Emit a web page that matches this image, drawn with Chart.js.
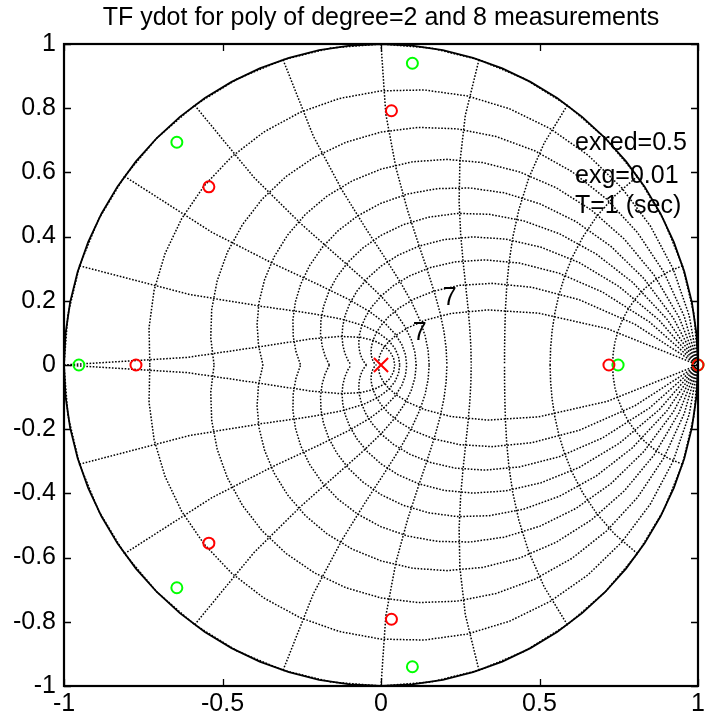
<!DOCTYPE html>
<html>
<head>
<meta charset="utf-8">
<script src="https://cdn.jsdelivr.net/npm/chart.js@4/dist/chart.umd.min.js"></script>
<style>
  html, body { margin: 0; padding: 0; background: #fff; }
  #wrap { width: 710px; height: 722px; }
</style>
</head>
<body>
<div id="wrap"><canvas id="zplane" width="710" height="722"></canvas></div>
<script>
// Values
const titleText = 'TF ydot for poly of degree=2 and 8 measurements';

// red circles
const redX = [0.033, 0.033, -0.543, -0.543, -0.773, 0.719, 1.0];
const redY = [0.792, -0.792, 0.555, -0.555, 0, 0, 0];
// green circles
const greenX = [0.099, 0.099, -0.644, -0.644, -0.953, 0.748, 1.0];
const greenY = [0.940, -0.940, 0.694, -0.694, 0, 0, 0];
// red cross
const crossX = [0];
const crossY = [0];

const xTicks = [-1, -0.5, 0, 0.5, 1];
const xTickLabels = ['-1', '-0.5', '0', '0.5', '1'];
const yTicks = [-1, -0.8, -0.6, -0.4, -0.2, 0, 0.2, 0.4, 0.6, 0.8, 1];
const yTickLabels = ['-1', '-0.8', '-0.6', '-0.4', '-0.2', '0', '0.2', '0.4', '0.6', '0.8', '1'];

// text in the plot
const noteLines = ['exred=0.5', 'exg=0.01', 'T=1 (sec)'];
const noteX = [0.612, 0.612, 0.612];
const noteY = [0.69, 0.59, 0.495];
const markLabels = ['7', '7'];
const markX = [0.195, 0.1];
const markY = [0.209, 0.1];

// z-plane grid (damping ratios and natural frequencies, wn in units of pi/T)
const zetaValues = [0, 0.1, 0.2, 0.3, 0.4, 0.5, 0.6, 0.7, 0.8, 0.9];
const wnValues = [0.1, 0.2, 0.3, 0.4, 0.5, 0.6, 0.7, 0.8, 0.9, 1];

const FONT = "'Liberation Sans', Arial, Helvetica, sans-serif";
const FS = 25;

function toPoints(xs, ys) {
    return xs.map((x, i) => ({ x: x, y: ys[i] }));
}

// draws the zgrid and the unit circle under the data
const zgridPlugin = {
    id: 'zgrid',
    beforeDatasetsDraw(chart) {
        const ctx = chart.ctx;
        const xs = chart.scales.x, ys = chart.scales.y;
        const a = chart.chartArea;
        const px = v => xs.getPixelForValue(v);
        const py = v => ys.getPixelForValue(v);

        ctx.save();
        ctx.beginPath();
        ctx.rect(a.left, a.top, a.right - a.left, a.bottom - a.top);
        ctx.clip();

        // solid unit circle
        ctx.strokeStyle = '#000';
        ctx.lineWidth = 1.8;
        ctx.beginPath();
        for (let k = 0; k <= 64; k++) {
            const t = k * 2 * Math.PI / 64;
            const X = px(Math.cos(t)), Y = py(Math.sin(t));
            if (k === 0) ctx.moveTo(X, Y); else ctx.lineTo(X, Y);
        }
        ctx.stroke();

        ctx.setLineDash([1.6, 1.6]);
        ctx.lineWidth = 1.5;
        ctx.strokeStyle = '#000';

        // constant damping lines
        zetaValues.forEach(z => {
            const m = Math.tan(Math.asin(z)) + 2.2e-16;
            [1, -1].forEach(sgn => {
                ctx.beginPath();
                for (let k = 0; k <= 20; k++) {
                    const t = k * Math.PI / 20;
                    const r = Math.exp(-m * t);
                    const X = px(r * Math.cos(t)), Y = py(sgn * r * Math.sin(t));
                    if (k === 0) ctx.moveTo(X, Y); else ctx.lineTo(X, Y);
                }
                ctx.stroke();
            });
        });

        // constant natural frequency lines
        wnValues.forEach(w => {
            [1, -1].forEach(sgn => {
                ctx.beginPath();
                for (let k = 0; k <= 10; k++) {
                    const th = Math.PI / 2 + k * Math.PI / 20;
                    const re = w * Math.PI * Math.cos(th);
                    const im = w * Math.PI * Math.sin(th);
                    const r = Math.exp(re);
                    const X = px(r * Math.cos(im)), Y = py(sgn * r * Math.sin(im));
                    if (k === 0) ctx.moveTo(X, Y); else ctx.lineTo(X, Y);
                }
                ctx.stroke();
            });
        });
        ctx.restore();
    }
};

// frame, inward ticks, title and text labels
const framePlugin = {
    id: 'frame',
    afterDraw(chart) {
        const ctx = chart.ctx;
        const xs = chart.scales.x, ys = chart.scales.y;
        const a = chart.chartArea;
        const tl = 7;

        ctx.save();
        ctx.strokeStyle = '#000';
        ctx.lineWidth = 1.3;
        ctx.beginPath();
        xTicks.forEach(v => {
            const X = Math.round(xs.getPixelForValue(v)) + 0.5;
            ctx.moveTo(X, a.bottom); ctx.lineTo(X, a.bottom - tl);
            ctx.moveTo(X, a.top); ctx.lineTo(X, a.top + tl);
        });
        yTicks.forEach(v => {
            const Y = Math.round(ys.getPixelForValue(v)) + 0.5;
            ctx.moveTo(a.left, Y); ctx.lineTo(a.left + tl, Y);
            ctx.moveTo(a.right, Y); ctx.lineTo(a.right - tl, Y);
        });
        ctx.stroke();

        ctx.lineWidth = 2.2;
        ctx.strokeRect(a.left, a.top, a.right - a.left, a.bottom - a.top);

        ctx.fillStyle = '#000';
        ctx.font = FS + 'px ' + FONT;
        ctx.textAlign = 'center';
        ctx.textBaseline = 'middle';
        ctx.fillText(titleText, (a.left + a.right) / 2, 18);

        ctx.textAlign = 'left';
        noteLines.forEach((s, i) => {
            ctx.fillText(s, xs.getPixelForValue(noteX[i]), ys.getPixelForValue(noteY[i]));
        });
        markLabels.forEach((s, i) => {
            ctx.fillText(s, xs.getPixelForValue(markX[i]), ys.getPixelForValue(markY[i]));
        });
        ctx.restore();
    }
};

new Chart(document.getElementById('zplane'), {
    type: 'scatter',
    data: {
        datasets: [
            {
                label: 'red',
                data: toPoints(redX, redY),
                pointStyle: 'circle',
                pointRadius: 5.5,
                borderWidth: 2,
                borderColor: '#ff0000',
                backgroundColor: 'rgba(0,0,0,0)',
                clip: false
            },
            {
                label: 'green',
                data: toPoints(greenX, greenY),
                pointStyle: 'circle',
                pointRadius: 5.5,
                borderWidth: 2,
                borderColor: '#00ff00',
                backgroundColor: 'rgba(0,0,0,0)',
                clip: false
            },
            {
                label: 'cross',
                data: toPoints(crossX, crossY),
                pointStyle: 'crossRot',
                pointRadius: 10,
                borderWidth: 2,
                borderColor: '#ff0000',
                backgroundColor: 'rgba(0,0,0,0)',
                clip: false
            }
        ]
    },
    options: {
        responsive: false,
        animation: false,
        events: [],
        layout: { padding: { top: 44, right: 4, left: 0, bottom: 0 } },
        plugins: {
            legend: { display: false },
            tooltip: { enabled: false },
            title: { display: false }
        },
        scales: {
            x: {
                type: 'linear',
                min: -1,
                max: 1,
                grid: { display: false, drawTicks: false },
                border: { display: false },
                afterBuildTicks: s => { s.ticks = xTicks.map(v => ({ value: v })); },
                afterFit: s => { s.height = 36; s.paddingLeft = 0; s.paddingRight = 0; },
                ticks: {
                    autoSkip: false,
                    maxRotation: 0,
                    padding: 3,
                    color: '#000',
                    font: { family: FONT, size: FS },
                    callback: v => xTickLabels[xTicks.indexOf(v)]
                }
            },
            y: {
                type: 'linear',
                min: -1,
                max: 1,
                grid: { display: false, drawTicks: false },
                border: { display: false },
                afterBuildTicks: s => { s.ticks = yTicks.map(v => ({ value: v })); },
                afterFit: s => { s.width = 64; s.paddingTop = 0; s.paddingBottom = 0; },
                ticks: {
                    autoSkip: false,
                    padding: 8,
                    color: '#000',
                    font: { family: FONT, size: FS },
                    callback: v => yTickLabels[yTicks.indexOf(v)]
                }
            }
        }
    },
    plugins: [zgridPlugin, framePlugin]
});
</script>
</body>
</html>
